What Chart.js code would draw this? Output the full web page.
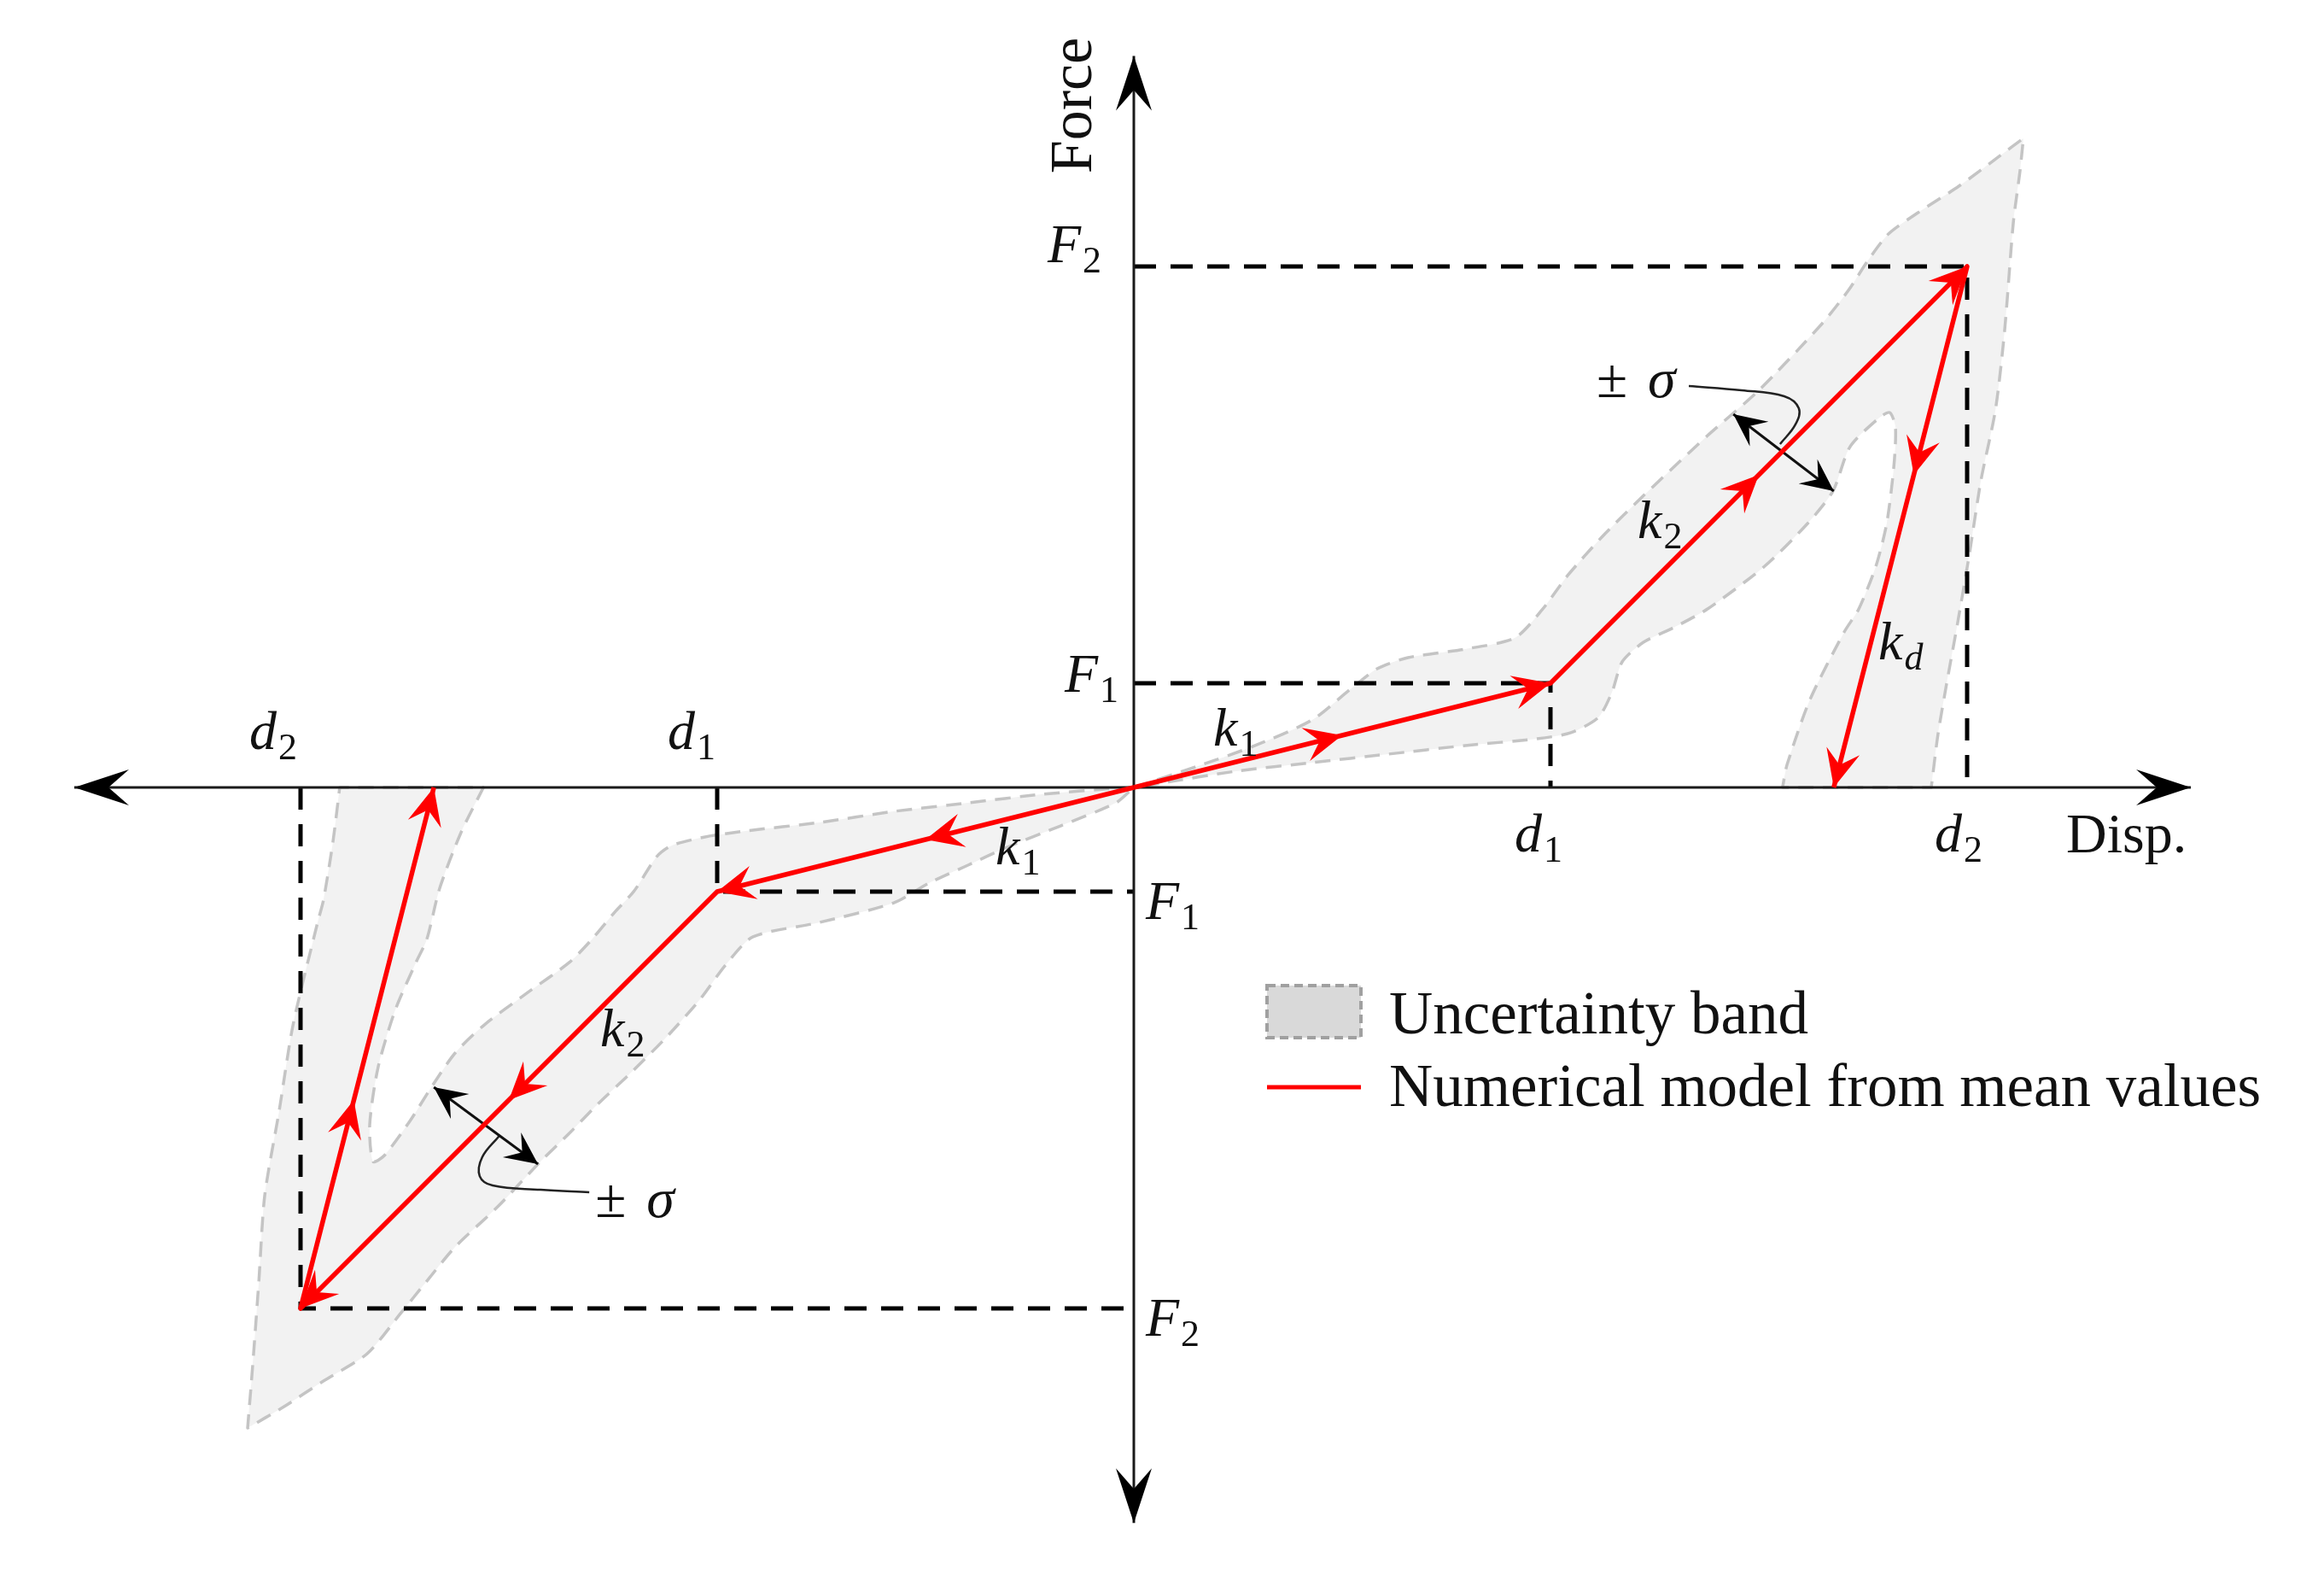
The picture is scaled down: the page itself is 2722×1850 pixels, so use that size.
<!DOCTYPE html>
<html>
<head>
<meta charset="utf-8">
<script src="https://cdn.jsdelivr.net/npm/chart.js@4.4.1/dist/chart.umd.min.js"></script>
<style>
  html, body { margin: 0; padding: 0; background: #fff; }
  #wrap { width: 2722px; height: 1850px; }
</style>
</head>
<body>
<div id="wrap"><canvas id="chart"></canvas></div>
<script>
// mean-value model: d1, d2 and F1, F2, then unloading back to the axis
const dispPos = [0, 1, 2, 1.68];
const forcePos = [0, 1, 5, 0];
const dispNeg = [0, -1, -2, -1.68];
const forceNeg = [0, -1, -5, 0];

// axis ends (arrow tips)
const xAxisEnds = [-2.543, 2.537];
const yAxisEnds = [-7.06, 7.02];

// uncertainty band, positive side (a repeated point keeps a corner sharp)
const bandRightX = [0, 0.154, 0.291, 0.428, 0.520, 0.584, 0.658, 0.795, 0.914, 0.980, 1.041, 1.123, 1.205, 1.287,
  1.377, 1.500, 1.650, 1.715, 1.762, 1.811, 1.879, 1.980, 2.080, 2.135, 2.135, 2.127, 2.111, 2.090, 2.068, 2.033, 2.006,
  1.977, 1.951, 1.930, 1.914, 1.914, 1.557, 1.557, 1.568, 1.623, 1.705, 1.740, 1.781, 1.807, 1.824, 1.828, 1.814, 1.787, 1.719,
  1.678, 1.617, 1.514, 1.377, 1.295, 1.223, 1.172, 1.148, 1.115, 1.049, 0.967, 0.795, 0.611, 0.428, 0.246, 0.064, 0];
const bandRightY = [0, 0.205, 0.402, 0.648, 0.943, 1.139, 1.246, 1.328, 1.434, 1.705, 2.033, 2.402, 2.730, 3.041,
  3.377, 3.811, 4.443, 4.770, 5.057, 5.311, 5.508, 5.770, 6.066, 6.230, 6.230, 5.918, 5.426, 4.385, 3.623, 2.943, 2.254,
  1.574, 1.000, 0.508, 0, 0, 0, 0, 0.221, 0.844, 1.492, 1.713, 2.123, 2.533, 3.074, 3.459, 3.598, 3.541, 3.270,
  2.844, 2.533, 2.123, 1.713, 1.533, 1.393, 1.205, 0.918, 0.672, 0.525, 0.467, 0.402, 0.320, 0.238, 0.156, 0.041, 0];

// uncertainty band, negative side
const bandLeftX = [0, -0.043, -0.221, -0.398, -0.576, -0.754, -0.932, -1.029, -1.109, -1.145, -1.199, -1.246, -1.301,
  -1.355, -1.457, -1.559, -1.629, -1.682, -1.738, -1.799, -1.826, -1.834, -1.814, -1.773, -1.723, -1.697, -1.666,
  -1.615, -1.561, -1.561, -1.906, -1.906, -1.922, -1.945, -1.959, -2.018, -2.051, -2.086, -2.100, -2.115, -2.127, -2.127,
  -2.043, -1.945, -1.840, -1.760, -1.697, -1.629, -1.527, -1.424, -1.355, -1.287, -1.205, -1.123, -1.041, -0.980,
  -0.914, -0.754, -0.576, -0.488, -0.398, -0.309, -0.176, -0.043, 0];
const bandLeftY = [0, -0.008, -0.066, -0.148, -0.230, -0.336, -0.418, -0.475, -0.557, -0.664, -0.992, -1.197, -1.459,
  -1.680, -1.975, -2.279, -2.549, -2.852, -3.205, -3.533, -3.590, -3.238, -2.689, -2.139, -1.680, -1.459, -0.967,
  -0.434, 0, 0, 0, 0, -0.516, -1.082, -1.295, -2.279, -3.098, -3.918, -4.738, -5.557, -6.148, -6.148,
  -5.951, -5.697, -5.434, -5.049, -4.738, -4.410, -4.025, -3.590, -3.320, -3.041, -2.730, -2.402, -2.033, -1.705,
  -1.434, -1.295, -1.107, -0.910, -0.746, -0.582, -0.369, -0.148, 0];

// +/- sigma double arrows and their leader curves
const sigmaRightX = [1.439, 1.680];
const sigmaRightY = [3.582, 2.844];
const sigmaLeftX = [-1.680, -1.430];
const sigmaLeftY = [-2.877, -3.615];
const leaderRightX = [1.332, 1.459, 1.561, 1.596, 1.588, 1.551];
const leaderRightY = [3.852, 3.811, 3.754, 3.639, 3.484, 3.295];
const leaderLeftX = [-1.523, -1.564, -1.570, -1.539, -1.424, -1.307];
const leaderLeftY = [-3.344, -3.549, -3.730, -3.820, -3.861, -3.885];

const RED = '#ff0000';
const SERIF = '"Liberation Serif", "Times New Roman", serif';

const pts = (xs, ys) => xs.map((x, i) => ({x: x, y: ys[i]}));

const d1 = dispPos[1], d2 = dispPos[2], F1 = forcePos[1], F2 = forcePos[2];

function guide(data) {
  return {data: data, borderColor: '#000', borderWidth: 5, borderDash: [26, 17], order: 3};
}

const datasets = [
  {label: 'Numerical model from mean values', data: pts(dispPos, forcePos), borderColor: RED, borderWidth: 5.5,
   order: 0, arrows: 'path'},
  {label: 'model-neg', data: pts(dispNeg, forceNeg), borderColor: RED, borderWidth: 5.5, order: 0, arrows: 'path'},
  {label: 'x-axis', data: pts(xAxisEnds, [0, 0]), borderColor: '#1a1a1a', borderWidth: 3, order: 1, arrows: 'axis'},
  {label: 'y-axis', data: pts([0, 0], yAxisEnds), borderColor: '#1a1a1a', borderWidth: 3, order: 1, arrows: 'axis'},
  {label: 'sigma+', data: pts(sigmaRightX, sigmaRightY), borderColor: '#111', borderWidth: 3, order: 1, arrows: 'both'},
  {label: 'sigma-', data: pts(sigmaLeftX, sigmaLeftY), borderColor: '#111', borderWidth: 3, order: 1, arrows: 'both'},
  {label: 'leader+', data: pts(leaderRightX, leaderRightY), borderColor: '#222', borderWidth: 2.5, tension: 0.4, order: 1},
  {label: 'leader-', data: pts(leaderLeftX, leaderLeftY), borderColor: '#222', borderWidth: 2.5, tension: 0.4, order: 1},
  guide([{x: 0, y: F1}, {x: d1, y: F1}, {x: d1, y: 0}]),
  guide([{x: 0, y: F2}, {x: d2, y: F2}, {x: d2, y: 0}]),
  guide([{x: -d1, y: 0}, {x: -d1, y: -F1}, {x: 0, y: -F1}]),
  guide([{x: -d2, y: 0}, {x: -d2, y: -F2}, {x: 0, y: -F2}]),
  {label: 'Uncertainty band', data: pts(bandRightX, bandRightY), borderColor: '#c4c4c4', borderWidth: 3.5,
   borderDash: [18, 11], backgroundColor: '#f2f2f2', fill: 'shape', tension: 0.25, order: 5},
  {label: 'band-neg', data: pts(bandLeftX, bandLeftY), borderColor: '#c4c4c4', borderWidth: 3.5,
   borderDash: [18, 11], backgroundColor: '#f2f2f2', fill: 'shape', tension: 0.25, order: 5}
];

// stealth-like arrow head with its tip at (x, y)
function head(ctx, x, y, ang, L, W, notch, color) {
  ctx.save();
  ctx.translate(x, y);
  ctx.rotate(ang);
  ctx.beginPath();
  ctx.moveTo(0, 0);
  ctx.lineTo(-L, W);
  ctx.lineTo(-notch, 0);
  ctx.lineTo(-L, -W);
  ctx.closePath();
  ctx.fillStyle = color;
  ctx.fill();
  ctx.restore();
}

const arrowPlugin = {
  id: 'arrows',
  afterDatasetsDraw(chart) {
    const ctx = chart.ctx;
    chart.data.datasets.forEach((ds, i) => {
      if (!ds.arrows) return;
      const p = chart.getDatasetMeta(i).data.map(e => ({x: e.x, y: e.y}));
      if (ds.arrows === 'path') {
        const midFrac = [0.5, 0.5, 0.4];
        for (let k = 0; k < p.length - 1; k++) {
          const a = p[k], b = p[k + 1];
          const ang = Math.atan2(b.y - a.y, b.x - a.x);
          const f = midFrac[k];
          head(ctx, a.x + (b.x - a.x) * f, a.y + (b.y - a.y) * f, ang, 44, 20, 27, RED);
          head(ctx, b.x, b.y, ang, 44, 20, 27, RED);
        }
      } else if (ds.arrows === 'axis') {
        const a = p[0], b = p[1];
        const ang = Math.atan2(b.y - a.y, b.x - a.x);
        head(ctx, b.x, b.y, ang, 64, 21, 40, '#000');
        head(ctx, a.x, a.y, ang + Math.PI, 64, 21, 40, '#000');
      } else if (ds.arrows === 'both') {
        const a = p[0], b = p[1];
        const ang = Math.atan2(b.y - a.y, b.x - a.x);
        head(ctx, b.x, b.y, ang, 38, 18, 23, '#000');
        head(ctx, a.x, a.y, ang + Math.PI, 38, 18, 23, '#000');
      }
    });
  }
};

function mathLabel(ctx, main, sub, x, y, subItalic) {
  ctx.font = 'italic 64px ' + SERIF;
  ctx.textAlign = 'left';
  ctx.textBaseline = 'alphabetic';
  ctx.fillText(main, x, y);
  const w = ctx.measureText(main).width;
  ctx.font = (subItalic ? 'italic ' : '') + '44px ' + SERIF;
  ctx.fillText(sub, x + w + 2, y + 12);
}

function pmSigma(ctx, x, y) {
  ctx.textAlign = 'left';
  ctx.textBaseline = 'alphabetic';
  ctx.font = '66px ' + SERIF;
  ctx.fillText('\u00B1', x, y);
  ctx.font = 'italic 66px ' + SERIF;
  ctx.fillText('\u03C3', x + 60, y);
}

const labelPlugin = {
  id: 'labels',
  beforeDraw(chart) {
    const ctx = chart.ctx;
    ctx.save();
    ctx.fillStyle = '#fff';
    ctx.fillRect(0, 0, chart.width, chart.height);
    ctx.restore();
  },
  afterDraw(chart) {
    const ctx = chart.ctx;
    const px = v => chart.scales.x.getPixelForValue(v);
    const py = v => chart.scales.y.getPixelForValue(v);
    ctx.save();
    ctx.fillStyle = '#111';

    // axis titles
    ctx.font = '70px ' + SERIF;
    ctx.textAlign = 'center';
    ctx.textBaseline = 'alphabetic';
    ctx.save();
    ctx.translate(px(0) - 50, py(yAxisEnds[1]) + 58);
    ctx.rotate(-Math.PI / 2);
    ctx.fillText('Force', 0, 0);
    ctx.restore();
    ctx.font = '66px ' + SERIF;
    ctx.textAlign = 'left';
    ctx.fillText('Disp.', px(xAxisEnds[1]) - 146, py(0) + 76);

    // key values
    mathLabel(ctx, 'F', '2', px(0) - 101, py(F2) - 5);
    mathLabel(ctx, 'F', '1', px(0) - 81, py(F1) + 10);
    mathLabel(ctx, 'F', '1', px(0) + 14, py(-F1) + 32);
    mathLabel(ctx, 'F', '2', px(0) + 14, py(-F2) + 32);
    mathLabel(ctx, 'd', '1', px(d1) - 42, py(0) + 75);
    mathLabel(ctx, 'd', '2', px(d2) - 38, py(0) + 75);
    mathLabel(ctx, 'd', '1', px(-d1) - 58, py(0) - 45);
    mathLabel(ctx, 'd', '2', px(-d2) - 60, py(0) - 45);

    // stiffness labels
    mathLabel(ctx, 'k', '1', px(0) + 93, py(0) - 49);
    mathLabel(ctx, 'k', '2', px(d1) + 102, py(F1) - 170);
    mathLabel(ctx, 'k', 'd', px(d2) - 104, py(F2) + 460, true);
    mathLabel(ctx, 'k', '1', px(0) - 162, py(0) + 90);
    mathLabel(ctx, 'k', '2', px(-d1) - 137, py(-F1) + 181);

    // +/- sigma
    pmSigma(ctx, px(leaderRightX[0]) - 108, py(leaderRightY[0]) + 13);
    const n = leaderLeftX.length - 1;
    pmSigma(ctx, px(leaderLeftX[n]) + 7, py(leaderLeftY[n]) + 29);

    // legend
    const band = chart.data.datasets[12], model = chart.data.datasets[0];
    ctx.fillStyle = '#d9d9d9';
    ctx.fillRect(1484, 1154, 110, 61);
    ctx.strokeStyle = '#a0a0a0';
    ctx.lineWidth = 4;
    ctx.setLineDash([10, 6]);
    ctx.strokeRect(1484, 1154, 110, 61);
    ctx.setLineDash([]);
    ctx.strokeStyle = model.borderColor;
    ctx.lineWidth = 5;
    ctx.beginPath();
    ctx.moveTo(1484, 1273);
    ctx.lineTo(1594, 1273);
    ctx.stroke();
    ctx.fillStyle = '#111';
    ctx.font = '71px ' + SERIF;
    ctx.textAlign = 'left';
    ctx.fillText(band.label, 1627, 1210);
    ctx.fillText(model.label, 1627, 1295);
    ctx.restore();
  }
};

new Chart(document.getElementById('chart'), {
  type: 'line',
  data: {datasets: datasets},
  options: {
    responsive: true,
    maintainAspectRatio: false,
    animation: false,
    events: [],
    layout: {padding: 0},
    elements: {point: {radius: 0}, line: {borderCapStyle: 'butt', borderJoinStyle: 'round', fill: false}},
    scales: {
      x: {type: 'linear', min: -1328 / 488, max: (2722 - 1328) / 488, display: false},
      y: {type: 'linear', min: -(1850 - 922) / 122, max: 922 / 122, display: false}
    },
    plugins: {legend: {display: false}, tooltip: {enabled: false}}
  },
  plugins: [arrowPlugin, labelPlugin]
});
</script>
</body>
</html>
